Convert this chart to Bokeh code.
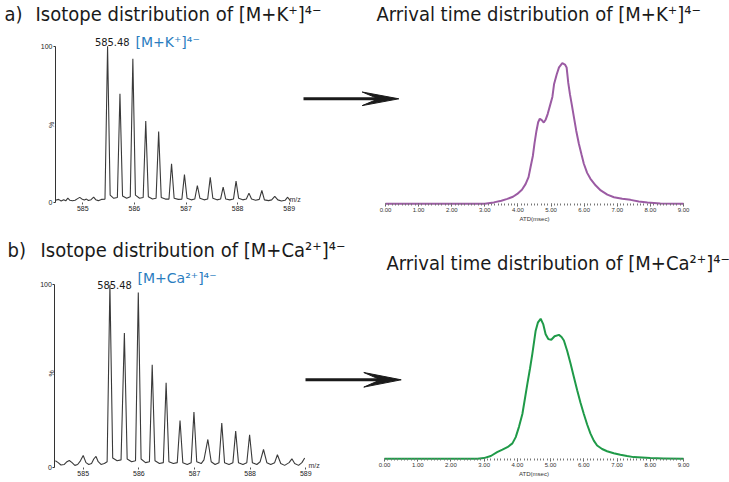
from bokeh.plotting import figure
from bokeh.models import (Range1d, LinearAxis, FixedTicker, SingleIntervalTicker,
                          PrintfTickFormatter, Label)
from bokeh.embed import file_html
from bokeh.resources import INLINE

# ---------------- data ----------------
# a) isotope distribution of [M+K+]4-  (m/z, relative intensity %)
mz_a = [584.47, 584.53, 584.58, 584.63, 584.67, 584.71, 584.75, 584.80, 584.85, 584.90,
        584.94, 584.98, 585.03, 585.07, 585.11, 585.16, 585.21, 585.25, 585.30, 585.36,
        585.43, 585.48, 585.53, 585.60, 585.67, 585.72, 585.77, 585.85, 585.92, 585.97,
        586.02, 586.10, 586.17, 586.22, 586.27, 586.35, 586.42, 586.47, 586.52, 586.60,
        586.67, 586.72, 586.77, 586.85, 586.92, 586.97, 587.02, 587.10, 587.17, 587.22,
        587.27, 587.35, 587.42, 587.47, 587.52, 587.60, 587.67, 587.72, 587.77, 587.85,
        587.92, 587.97, 588.02, 588.10, 588.17, 588.22, 588.27, 588.35, 588.42, 588.47,
        588.52, 588.60, 588.66, 588.72, 588.78, 588.85, 588.92, 588.97, 589.02]
pct_a = [1.2, 1.8, 0.8, 1.6, 0.9, 2.6, 1.2, 0.9, 1.3, 2.3,
         3.1, 2.1, 1.4, 2.0, 1.1, 1.6, 3.2, 1.6, 1.0, 1.8,
         2.0, 100.0, 4.5, 2.5, 3.0, 69.5, 4.0, 2.5, 3.5, 92.0,
         4.5, 2.5, 3.0, 52.0, 3.5, 2.0, 2.5, 45.3, 3.0, 2.0,
         2.0, 24.6, 2.5, 1.8, 2.0, 17.7, 2.5, 1.5, 2.0, 10.7,
         2.5, 1.5, 2.0, 16.0, 2.5, 1.5, 2.0, 9.6, 2.0, 1.5,
         2.0, 13.5, 2.5, 1.5, 2.0, 5.8, 2.0, 1.2, 1.8, 7.5,
         1.5, 1.0, 1.5, 3.8, 1.5, 0.8, 1.2, 3.2, 1.0]

# b) isotope distribution of [M+Ca2+]4-
mz_b = [584.50, 584.55, 584.60, 584.66, 584.70, 584.75, 584.80, 584.85, 584.90, 584.95,
        585.00, 585.05, 585.10, 585.15, 585.19, 585.23, 585.27, 585.32, 585.38, 585.43,
        585.48, 585.53, 585.61, 585.68, 585.74, 585.79, 585.87, 585.94, 585.99, 586.04,
        586.12, 586.19, 586.24, 586.29, 586.37, 586.44, 586.49, 586.54, 586.62, 586.69,
        586.74, 586.79, 586.87, 586.94, 586.99, 587.04, 587.12, 587.17, 587.24, 587.30,
        587.37, 587.44, 587.49, 587.54, 587.62, 587.69, 587.74, 587.79, 587.87, 587.94,
        587.99, 588.04, 588.12, 588.18, 588.24, 588.30, 588.37, 588.44, 588.49, 588.55,
        588.62, 588.70, 588.75, 588.80, 588.87, 588.93, 588.98]
pct_b = [3.5, 2.5, 1.2, 1.5, 2.8, 3.7, 2.5, 1.0, 1.5, 3.5,
         6.4, 2.5, 1.5, 2.0, 4.5, 5.9, 3.0, 1.5, 2.0, 3.0,
         100.0, 5.0, 3.5, 4.0, 73.6, 4.5, 3.0, 3.5, 95.8, 4.5,
         2.5, 3.0, 56.2, 3.5, 2.0, 2.5, 46.3, 3.0, 2.0, 2.5,
         25.6, 2.5, 1.5, 2.5, 30.2, 3.0, 2.0, 4.0, 15.2, 3.0,
         1.5, 2.5, 24.2, 2.5, 1.5, 2.5, 19.8, 2.5, 1.5, 2.5,
         17.8, 2.5, 1.5, 3.0, 9.7, 2.5, 1.5, 2.5, 6.8, 2.0,
         1.0, 2.5, 4.6, 2.0, 1.0, 2.5, 5.0]

# arrival time distributions (ATD, msec -> normalised intensity)
atd_t_a = [0.0, 3.0, 3.27, 3.5, 3.68, 3.85, 3.98, 4.12, 4.23, 4.32, 4.38, 4.45, 4.50, 4.56,
           4.61, 4.66, 4.72, 4.78, 4.84, 4.90, 4.97, 5.04, 5.09, 5.17, 5.24, 5.34, 5.42,
           5.47, 5.52, 5.57, 5.63, 5.69, 5.76, 5.84, 5.92, 5.99, 6.09, 6.19, 6.35, 6.50,
           6.70, 6.90, 7.15, 7.40, 7.65, 7.91, 8.30, 9.0]
atd_v_a = [0.0, 0.0, 0.01, 0.022, 0.035, 0.05, 0.07, 0.10, 0.14, 0.19, 0.26, 0.34, 0.43, 0.52,
           0.58, 0.605, 0.595, 0.578, 0.60, 0.64, 0.70, 0.76, 0.85, 0.92, 0.97, 1.0, 0.99,
           0.97, 0.86, 0.78, 0.70, 0.616, 0.52, 0.427, 0.35, 0.285, 0.22, 0.178, 0.13, 0.095,
           0.065, 0.047, 0.036, 0.028, 0.016, 0.009, 0.003, 0.0]

atd_t_b = [0.0, 2.8, 2.99, 3.2, 3.39, 3.55, 3.70, 3.85, 3.95, 4.05, 4.15, 4.22, 4.30, 4.38,
           4.45, 4.55, 4.62, 4.70, 4.78, 4.85, 4.93, 5.02, 5.12, 5.25, 5.33, 5.40, 5.50,
           5.60, 5.70, 5.80, 5.90, 6.00, 6.10, 6.20, 6.30, 6.40, 6.55, 6.70, 6.90, 7.10,
           7.30, 7.50, 8.0, 8.4, 9.0]
atd_v_b = [0.0, 0.0, 0.005, 0.02, 0.047, 0.065, 0.083, 0.11, 0.155, 0.23, 0.32, 0.42, 0.535,
           0.645, 0.75, 0.915, 0.975, 1.0, 0.96, 0.89, 0.855, 0.85, 0.875, 0.885, 0.87, 0.845,
           0.77, 0.68, 0.585, 0.49, 0.40, 0.32, 0.245, 0.18, 0.13, 0.095, 0.07, 0.054, 0.04,
           0.029, 0.02, 0.012, 0.005, 0.003, 0.0]

mz_ticks = [585, 586, 587, 588, 589]
pct_ticks = [0, 100]
atd_tick_interval = 1
atd_minor_per_major = 10

# ---------------- layout helpers ----------------
W, H = 729, 482
TITLE_FONT = "DejaVu Sans Condensed"
SMALL_FONT = "Liberation Sans"


def lin_range(va, pa, vb, pb, size, flip=False):
    """Range whose scale puts value va at pixel pa and vb at pixel pb."""
    k = (pb - pa) / (vb - va)
    v0 = va - pa / k
    v1 = va + (size - pa) / k
    return Range1d(v1, v0) if flip else Range1d(v0, v1)


p = figure(width=W, height=H, x_range=Range1d(0, W), y_range=Range1d(H, 0),
           output_backend="svg", toolbar_location=None,
           x_axis_location=None, y_axis_location=None,
           min_border=0, outline_line_color=None, background_fill_color="white")
p.xgrid.grid_line_color = None
p.ygrid.grid_line_color = None
p.xgrid.visible = False
p.ygrid.visible = False

p.extra_x_ranges = {
    "mzA": lin_range(585, 82.3, 589, 288.7, W),
    "atdA": lin_range(0, 385, 9, 683, W),
    "mzB": lin_range(585, 82.7, 589, 305.3, W),
    "atdB": lin_range(0, 384, 9, 683, W),
}
p.extra_y_ranges = {
    "pA": lin_range(0, 201.7, 100, 45.7, H, flip=True),
    "vA": lin_range(0, 203.3, 1.0, 62.7, H, flip=True),
    "pB": lin_range(0, 466.7, 100, 284.3, H, flip=True),
    "vB": lin_range(0, 458.3, 1.0, 318.3, H, flip=True),
}

MZ_LEFT_A, MZ_LEFT_B = 584.47, 584.49


def spectrum(xn, yn, mz, pct, mz_left):
    p.line(mz, pct, x_range_name=xn, y_range_name=yn, line_color="#3a3a3a", line_width=1.1)
    xa = LinearAxis(x_range_name=xn, y_range_name=yn, fixed_location=0,
                    bounds=(mz_left, 589.05), ticker=FixedTicker(ticks=mz_ticks, minor_ticks=[]),
                    axis_line_color=None, major_tick_out=2, major_tick_in=0,
                    major_tick_line_color="#555555", minor_tick_out=0, minor_tick_in=0,
                    major_label_standoff=2, major_label_text_font=SMALL_FONT,
                    major_label_text_font_size="7px", major_label_text_color="#222222")
    p.add_layout(xa, "below")
    ya = LinearAxis(x_range_name=xn, y_range_name=yn, fixed_location=mz_left,
                    bounds=(0, 100), ticker=FixedTicker(ticks=pct_ticks, minor_ticks=[]),
                    axis_line_color="#333333", axis_line_width=1,
                    major_tick_out=2, major_tick_in=0, minor_tick_out=0, minor_tick_in=0,
                    major_tick_line_color="#333333",
                    major_label_standoff=1, major_label_text_font=SMALL_FONT,
                    major_label_text_font_size="7px", major_label_text_color="#222222")
    p.add_layout(ya, "left")


def atd(xn, yn, t, v, color):
    p.line(t, v, x_range_name=xn, y_range_name=yn, line_color=color, line_width=2)
    ax = LinearAxis(x_range_name=xn, y_range_name=yn, fixed_location=0, bounds=(0, 9),
                    ticker=SingleIntervalTicker(interval=atd_tick_interval,
                                                num_minor_ticks=atd_minor_per_major),
                    formatter=PrintfTickFormatter(format="%.2f"),
                    axis_line_color=None,
                    major_tick_out=3, major_tick_in=0, minor_tick_out=2, minor_tick_in=0,
                    major_tick_line_color="#555555", minor_tick_line_color="#777777",
                    minor_tick_line_width=1,
                    major_label_standoff=1, major_label_text_font=SMALL_FONT,
                    major_label_text_font_size="6px", major_label_text_color="#333333",
                    axis_label="ATD(msec)", axis_label_text_font=SMALL_FONT,
                    axis_label_text_font_size="6px", axis_label_text_font_style="normal",
                    axis_label_text_color="#333333", axis_label_standoff=1)
    p.add_layout(ax, "below")


spectrum("mzA", "pA", mz_a, pct_a, MZ_LEFT_A)
spectrum("mzB", "pB", mz_b, pct_b, MZ_LEFT_B)
atd("atdA", "vA", atd_t_a, atd_v_a, "#9b5ba3")
atd("atdB", "vB", atd_t_b, atd_v_b, "#1f9a48")

# ---------------- arrows (page pixels) ----------------
arrow_a_shaft = ([303, 380], [98.3, 98.3])
arrow_a_head = ([398.3, 361.7, 378, 361.7], [98.3, 91.5, 98.3, 105.1])
arrow_b_shaft = ([305, 382], [379.3, 379.3])
arrow_b_head = ([400.7, 363.3, 380, 363.3], [379.3, 372.0, 379.3, 386.6])
for shaft, head in ((arrow_a_shaft, arrow_a_head), (arrow_b_shaft, arrow_b_head)):
    p.line(shaft[0], shaft[1], line_color="#1a1a1a", line_width=3)
    p.patch(head[0], head[1], fill_color="#1a1a1a", line_color="#1a1a1a", line_width=1)


# ---------------- texts ----------------
def text(x, y, s, size, font=TITLE_FONT, color="#1a1a1a", align="left", angle=0):
    p.add_layout(Label(x=x, y=y, text=s, text_font=font, text_font_size=size,
                       text_color=color, text_align=align, text_baseline="middle",
                       angle=angle, angle_units="deg"))


text(4, 13.5, "a)", "20px")
text(35, 13.5, "Isotope distribution of [M+K\u207a]\u2074\u207b", "20px")
text(376, 13.5, "Arrival time distribution of [M+K\u207a]\u2074\u207b", "20px")
text(7, 249, "b)", "20px")
text(40, 249, "Isotope distribution of [M+Ca\u00b2\u207a]\u2074\u207b", "20px")
text(386, 262, "Arrival time distribution of [M+Ca\u00b2\u207a]\u2074\u207b", "20px")

text(111.7, 41.7, "585.48", "11px", align="center")
text(135, 41.3, "[M+K\u207a]\u2074\u207b", "14px", font="DejaVu Sans", color="#2a7dc0")
text(114, 284, "585.48", "11px", align="center")
text(137, 277, "[M+Ca\u00b2\u207a]\u2074\u207b", "14px", font="DejaVu Sans", color="#2a7dc0")

text(289, 199, "m/z", "7px", font=SMALL_FONT, color="#333333")
text(308, 465, "m/z", "7px", font=SMALL_FONT, color="#333333")
text(50.5, 124.5, "%", "7px", font=SMALL_FONT, color="#333333", align="center", angle=90)
text(50.5, 373, "%", "7px", font=SMALL_FONT, color="#333333", align="center", angle=90)

open("out.html", "w").write(file_html(p, INLINE))
